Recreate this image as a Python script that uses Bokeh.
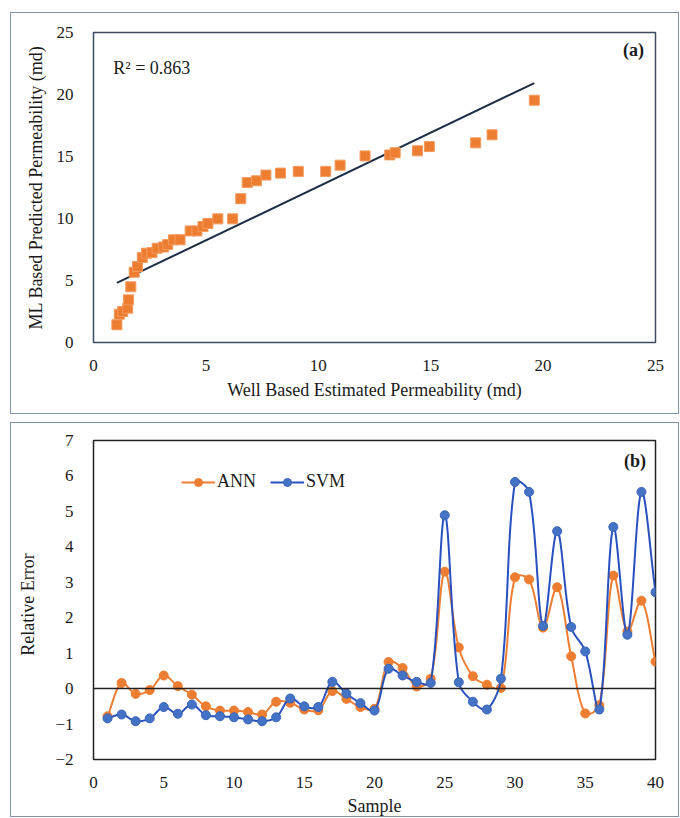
import numpy as np
from bokeh.plotting import figure
from bokeh.models import Span, Legend, LegendItem, FixedTicker, Range1d
from bokeh.layouts import column
from bokeh.embed import file_html
from bokeh.resources import INLINE
from bokeh.core.properties import value

# ---------------- data: panel (a) ----------------
well_perm = [1.04, 1.15, 1.30, 1.52, 1.56, 1.66, 1.81, 1.96, 2.17, 2.36,
             2.60, 2.83, 3.12, 3.30, 3.56, 3.85, 4.30, 4.60, 4.87, 5.09,
             5.53, 6.19, 6.55, 6.84, 7.25, 7.67, 8.32, 9.11, 10.33, 10.97,
             12.08, 13.18, 13.42, 14.41, 14.94, 17.00, 17.73, 19.61]
ml_perm = [1.43, 2.28, 2.50, 2.77, 3.44, 4.49, 5.67, 6.13, 6.85, 7.20,
           7.25, 7.60, 7.70, 7.90, 8.28, 8.28, 9.00, 9.00, 9.35, 9.60,
           9.97, 9.97, 11.60, 12.90, 13.04, 13.50, 13.66, 13.80, 13.80, 14.30,
           15.05, 15.13, 15.30, 15.46, 15.80, 16.10, 16.75, 19.54]
trend_slope = 0.868
trend_intercept = 3.90
r2_text = "R\u00b2 = 0.863"
ticks_a = [0, 5, 10, 15, 20, 25]

# ---------------- data: panel (b) ----------------
sample = list(range(1, 41))
ann_err = [-0.78, 0.16, -0.15, -0.04, 0.37, 0.07, -0.17, -0.50, -0.62, -0.62,
           -0.66, -0.73, -0.37, -0.40, -0.59, -0.61, -0.07, -0.29, -0.52, -0.57,
           0.75, 0.58, 0.06, 0.28, 3.30, 1.16, 0.35, 0.11, 0.02, 3.14,
           3.08, 1.72, 2.86, 0.91, -0.70, -0.47, 3.19, 1.61, 2.48, 0.76]
svm_err = [-0.84, -0.73, -0.92, -0.84, -0.52, -0.71, -0.45, -0.75, -0.78, -0.81,
           -0.87, -0.92, -0.81, -0.28, -0.50, -0.52, 0.19, -0.14, -0.41, -0.62,
           0.56, 0.37, 0.19, 0.16, 4.89, 0.18, -0.37, -0.59, 0.28, 5.83,
           5.55, 1.77, 4.44, 1.74, 1.05, -0.59, 4.56, 1.52, 5.55, 2.72]
x_ticks_b = [0, 5, 10, 15, 20, 25, 30, 35, 40]
y_ticks_b = [-2, -1, 0, 1, 2, 3, 4, 5, 6, 7]

SERIF = "Liberation Serif"
FRAME = "1px solid #8193AD"
TXT = "#1a1a1a"
TICK_FS = "17px"
LABEL_FS = "18px"


def style_axes(p):
    for ax in (p.xaxis, p.yaxis):
        ax.axis_line_color = None
        ax.major_tick_line_color = None
        ax.minor_tick_line_color = None
        ax.major_label_text_font = SERIF
        ax.major_label_text_font_size = TICK_FS
        ax.major_label_text_color = TXT
        ax.axis_label_text_font = SERIF
        ax.axis_label_text_font_size = LABEL_FS
        ax.axis_label_text_font_style = "normal"
        ax.axis_label_text_color = TXT
    p.xgrid.visible = False
    p.ygrid.visible = False
    p.background_fill_color = "white"
    p.border_fill_color = "white"


def smooth(xs, ys, sx, sy, n=30):
    # spreadsheet-like smoothed line: cubic Bezier segments whose control
    # handles are weighted by neighbouring segment lengths (screen space)
    P = np.column_stack([np.asarray(xs, float) * sx, np.asarray(ys, float) * sy])
    ext = np.vstack([P[0], P, P[-1]])
    t = np.linspace(0, 1, n)[:, None]
    out = []
    for i in range(len(P) - 1):
        p0, p1, p2, p3 = ext[i], ext[i + 1], ext[i + 2], ext[i + 3]
        d01 = np.linalg.norm(p1 - p0)
        d12 = np.linalg.norm(p2 - p1)
        d23 = np.linalg.norm(p3 - p2)
        f1 = d12 / (d01 + d12) / 3.0 if (d01 + d12) > 0 else 0
        f2 = d12 / (d12 + d23) / 3.0 if (d12 + d23) > 0 else 0
        c1 = p1 + (p2 - p0) * f1
        c2 = p2 - (p3 - p1) * f2
        seg = ((1 - t) ** 3) * p1 + 3 * ((1 - t) ** 2) * t * c1 + 3 * (1 - t) * t ** 2 * c2 + t ** 3 * p2
        out.append(seg if i == 0 else seg[1:])
    out = np.vstack(out)
    return out[:, 0] / sx, out[:, 1] / sy


# ---------------- panel (a) ----------------
p1 = figure(width=669, height=402, x_range=Range1d(0, 25), y_range=Range1d(0, 25),
            output_backend="svg", toolbar_location=None,
            min_border_left=82, min_border_right=16, min_border_top=19, min_border_bottom=73)
style_axes(p1)
p1.outline_line_color = "#3E4C60"
p1.outline_line_width = 1.5
p1.xaxis.ticker = FixedTicker(ticks=ticks_a)
p1.yaxis.ticker = FixedTicker(ticks=ticks_a)
p1.xaxis.major_label_standoff = 11
p1.yaxis.major_label_standoff = 14
p1.xaxis.axis_label = "Well Based Estimated Permeability (md)"
p1.yaxis.axis_label = "ML Based Predicted Permeability (md)"
p1.xaxis.axis_label_standoff = 6
p1.yaxis.axis_label_standoff = 8

tx = np.array([min(well_perm), max(well_perm)])
p1.line(tx, trend_slope * tx + trend_intercept, line_color="#1C2E45", line_width=2)
p1.scatter(well_perm, ml_perm, marker="square", size=10,
           fill_color="#ED7D31", line_color="#F39A5E", line_width=1)
p1.text(x=[0.88], y=[22.1], text=[r2_text], text_font=value(SERIF),
        text_font_size="18px", text_baseline="middle", text_color=TXT)
p1.text(x=[23.55], y=[23.6], text=["(a)"], text_font=value(SERIF),
        text_font_size="18px", text_font_style="bold", text_baseline="middle", text_color=TXT)
p1.styles = {"border": FRAME}
p1.margin = (12, 0, 0, 10)

# ---------------- panel (b) ----------------
p2 = figure(width=669, height=395, x_range=Range1d(0, 40), y_range=Range1d(-2, 7),
            output_backend="svg", toolbar_location=None,
            min_border_left=74, min_border_right=25, min_border_top=17, min_border_bottom=58)
style_axes(p2)
p2.outline_line_color = "#222222"
p2.outline_line_width = 1.5
p2.xaxis.ticker = FixedTicker(ticks=x_ticks_b)
p2.yaxis.ticker = FixedTicker(ticks=y_ticks_b)
p2.xaxis.major_label_standoff = 11
p2.yaxis.major_label_standoff = 14
p2.xaxis.axis_label = "Sample"
p2.yaxis.axis_label = "Relative   Error"
p2.xaxis.axis_label_standoff = 5
p2.yaxis.axis_label_standoff = 14

p2.add_layout(Span(location=0, dimension="width", line_color="#222222", line_width=1.5))

SX, SY = 570.0 / 40.0, 320.0 / 9.0
ax_, ay_ = smooth(sample, ann_err, SX, SY)
sx_, sy_ = smooth(sample, svm_err, SX, SY)
l_ann = p2.line(ax_, ay_, line_color="#ED7D31", line_width=2)
m_ann = p2.scatter(sample, ann_err, marker="circle", size=9,
                   fill_color="#ED7D31", line_color="#ED7D31")
l_svm = p2.line(sx_, sy_, line_color="#2850BE", line_width=2)
m_svm = p2.scatter(sample, svm_err, marker="circle", size=9,
                   fill_color="#4472C4", line_color="#3A64BA")

p2.text(x=[37.75], y=[6.41], text=["(b)"], text_font=value(SERIF),
        text_font_size="18px", text_font_style="bold", text_baseline="middle", text_color=TXT)

legend = Legend(items=[LegendItem(label="ANN", renderers=[l_ann, m_ann]),
                       LegendItem(label="SVM", renderers=[l_svm, m_svm])],
                orientation="horizontal", location=(88, 267),
                glyph_width=34, glyph_height=20, label_standoff=2, spacing=14,
                padding=0, margin=0, border_line_color=None, background_fill_alpha=0,
                label_text_font=SERIF, label_text_font_size="18px", label_text_color=TXT)
p2.add_layout(legend)
p2.styles = {"border": FRAME}
p2.margin = (8, 0, 0, 10)

layout = column(p1, p2, spacing=0)
open("out.html", "w").write(file_html(layout, INLINE))
